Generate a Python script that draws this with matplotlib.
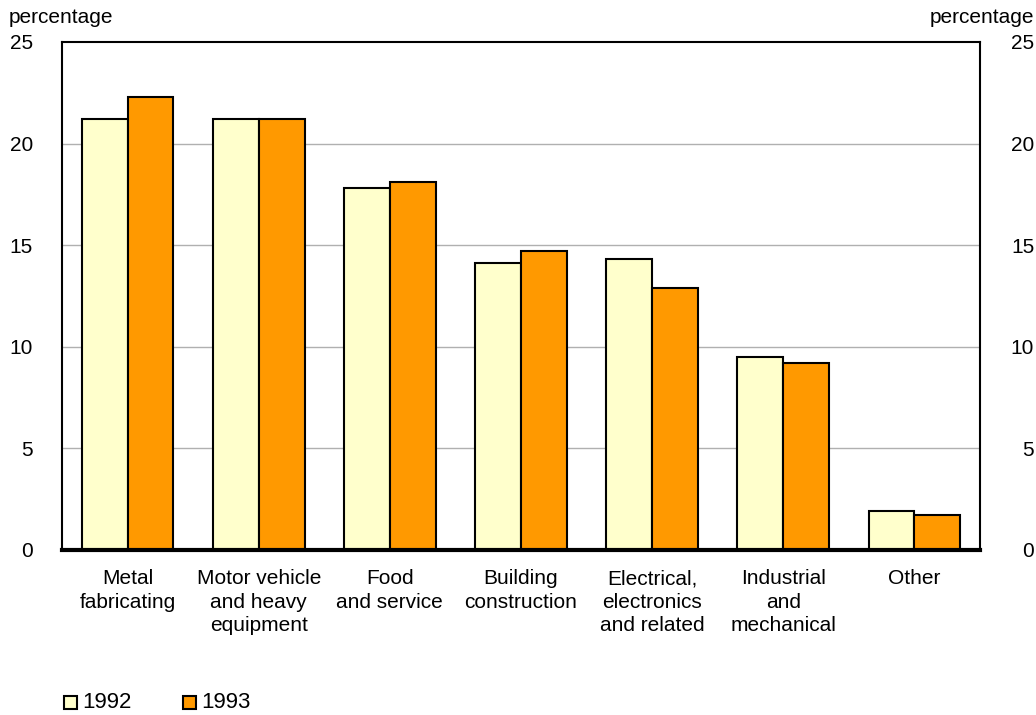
import numpy as np
from matplotlib import pyplot as plt
from matplotlib.patches import Rectangle

categories = ["Metal\nfabricating", "Motor vehicle\nand heavy\nequipment", "Food\nand service",
              "Building\nconstruction", "Electrical,\nelectronics\nand related",
              "Industrial\nand\nmechanical", "Other"]
vals_1992 = [21.2, 21.2, 17.8, 14.1, 14.3, 9.5, 1.9]
vals_1993 = [22.3, 21.2, 18.1, 14.7, 12.9, 9.2, 1.7]
series_names = ["1992", "1993"]
yticks = [0, 5, 10, 15, 20, 25]

plt.rcParams['font.family'] = ['Liberation Sans', 'DejaVu Sans']

c92 = "#ffffcc"
c93 = "#ff9900"

fig = plt.figure(figsize=(10.36, 7.15), dpi=100)
ax = fig.add_axes([0.0598, 0.2308, 0.8862, 0.7105])

x = np.arange(len(categories))
w = 0.35
ax.bar(x - w / 2, vals_1992, w, color=c92, edgecolor="black", linewidth=1.5, zorder=3)
ax.bar(x + w / 2, vals_1993, w, color=c93, edgecolor="black", linewidth=1.5, zorder=3)

ax.set_xlim(-0.5, len(categories) - 0.5)
ax.set_ylim(0, 25)
ax.set_yticks(yticks)
ax.set_yticklabels([str(t) for t in yticks])
for g in yticks[1:-1]:
    ax.axhline(g, color="#b0b0b0", linewidth=1, zorder=1)
ax.axhline(0, color="black", linewidth=3, zorder=4, clip_on=False)

for s in ax.spines.values():
    s.set_linewidth(1.5)
ax.tick_params(axis="y", length=0, labelsize=15, pad=21)
ax.tick_params(axis="x", length=0, labelsize=15, pad=14)
ax.set_xticks(x)
ax.set_xticklabels(categories, linespacing=1.3)
for lab in ax.get_yticklabels():
    lab.set_verticalalignment("center_baseline")

# right axis labels
ax2 = ax.twinx()
ax2.set_ylim(0, 25)
ax2.set_yticks(yticks)
ax2.set_yticklabels([str(t) for t in yticks])
ax2.tick_params(axis="y", length=0, labelsize=15, pad=39)
for lab in ax2.get_yticklabels():
    lab.set_horizontalalignment("right")
    lab.set_verticalalignment("center_baseline")
for s in ax2.spines.values():
    s.set_visible(False)

fig.text(0.008, 0.975, "percentage", fontsize=15, ha="left", va="center")
fig.text(0.998, 0.975, "percentage", fontsize=15, ha="right", va="center")

# legend
for i, (name, col) in enumerate(zip(series_names, [c92, c93])):
    x0 = 64 + i * 119
    fig.patches.append(Rectangle((x0 / 1036, 1 - 709 / 715), 13 / 1036, 13 / 715,
                                 transform=fig.transFigure, facecolor=col,
                                 edgecolor="black", linewidth=1.5))
    fig.text((x0 + 18) / 1036, 1 - 702 / 715, name, fontsize=16, ha="left", va="center")

fig.savefig("out.png", dpi=100)
